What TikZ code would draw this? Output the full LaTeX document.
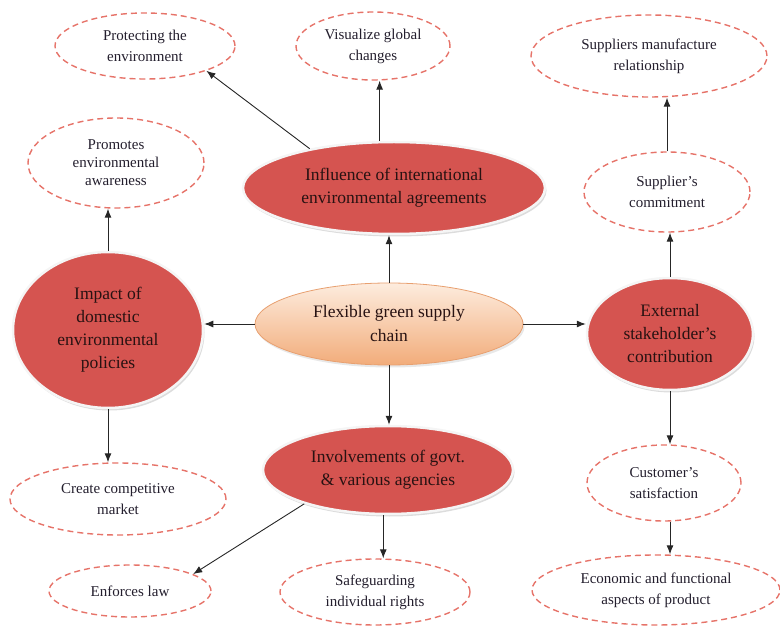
\documentclass[tikz,border=0pt]{standalone}
\usepackage{fontspec}
\setmainfont{Liberation Serif}
\usetikzlibrary{shapes.geometric,arrows.meta,shadows}
\definecolor{redfill}{RGB}{213,84,80}
\definecolor{dashcol}{RGB}{230,115,105}
\definecolor{peachtop}{RGB}{253,236,222}
\definecolor{peachbot}{RGB}{242,172,122}
\definecolor{peachline}{RGB}{232,160,112}
\definecolor{txtdark}{RGB}{35,30,45}
\definecolor{txtred}{RGB}{40,18,18}
\begin{document}
\begin{tikzpicture}[x=1pt,y=1pt,
  dashnode/.style={ellipse, draw=dashcol, line width=1.4pt, dash pattern=on 6pt off 4pt,
    align=center, inner sep=0pt, text=txtdark, font=\fontsize{15}{21}\selectfont},
  rednode/.style={ellipse, draw=white!92!gray, line width=2.5pt, fill=redfill,
    align=center, inner sep=0pt, text=txtred, font=\fontsize{17.5}{23}\selectfont,
    drop shadow={shadow xshift=1.5pt, shadow yshift=-2.5pt, fill=gray!55}},
  centrenode/.style={ellipse, draw=peachline, line width=0.8pt, top color=peachtop, bottom color=peachbot,
    align=center, inner sep=0pt, text=txtred, font=\fontsize{17.5}{24}\selectfont,
    drop shadow={shadow xshift=1.5pt, shadow yshift=-2.5pt, fill=gray!35}},
  arr/.style={-{Latex[length=9pt,width=7pt]}, line width=0.9pt, black!85}]
\useasboundingbox (0,0) rectangle (780,625);

\node[dashnode, minimum width=180, minimum height=66] (prot) at (145,579) {Protecting the\\environment};
\node[dashnode, minimum width=154, minimum height=68] (visu) at (373,579) {Visualize global\\changes};
\node[dashnode, minimum width=236, minimum height=82] (supm) at (649,569) {Suppliers manufacture\\relationship};
\node[dashnode, minimum width=176, minimum height=90, font=\fontsize{15}{18}\selectfont] (prom) at (116,462) {Promotes\\environmental\\awareness};
\node[dashnode, minimum width=166, minimum height=80] (supc) at (667,433) {Supplier’s\\commitment};

\node[rednode, minimum width=302, minimum height=92] (infl) at (394,437) {Influence of international\\environmental agreements};
\node[centrenode, minimum width=268, minimum height=82] (ctr) at (389,301) {Flexible green supply\\chain};
\node[rednode, minimum width=190, minimum height=156] (imp) at (108,295) {Impact of\\domestic\\environmental\\policies};
\node[rednode, minimum width=166, minimum height=112] (ext) at (670,291) {External\\stakeholder’s\\contribution};
\node[rednode, minimum width=250, minimum height=88] (invo) at (388,155) {Involvements of govt.\\\& various agencies};

\node[dashnode, minimum width=216, minimum height=72] (create) at (118,126) {Create competitive\\market};
\node[dashnode, minimum width=154, minimum height=76] (cust) at (664,142) {Customer’s\\satisfaction};
\node[dashnode, minimum width=162, minimum height=52] (enf) at (130,34) {Enforces law};
\node[dashnode, minimum width=190, minimum height=66] (safe) at (375,33) {Safeguarding\\individual rights};
\node[dashnode, minimum width=248, minimum height=70] (econ) at (656,35) {Economic and functional\\aspects of product};

\draw[arr] (ctr.north) -- (ctr.north |- infl.south);
\draw[arr] (ctr.west) -- (ctr.west -| imp.east);
\draw[arr] (ctr.east) -- (ctr.east -| ext.west);
\draw[arr] (ctr.south) -- (ctr.south |- invo.north);
\draw[arr] (infl.155) -- (prot.-22);
\draw[arr] (infl.107) -- (infl.107 |- visu.south);
\draw[arr] (imp.north) -- (imp.north |- prom.south);
\draw[arr] (imp.south) -- (imp.south |- create.north);
\draw[arr] (ext.north) -- (ext.north |- supc.south);
\draw[arr] (supc.north) -- (supc.north |- supm.south);
\draw[arr] (ext.south) -- (ext.south |- cust.north);
\draw[arr] (cust.south -| ext.south) -- (ext.south |- econ.north);
\draw[arr] (invo.202) -- (enf.15);
\draw[arr] (invo.264) -- (invo.264 |- safe.north);
\end{tikzpicture}
\end{document}
